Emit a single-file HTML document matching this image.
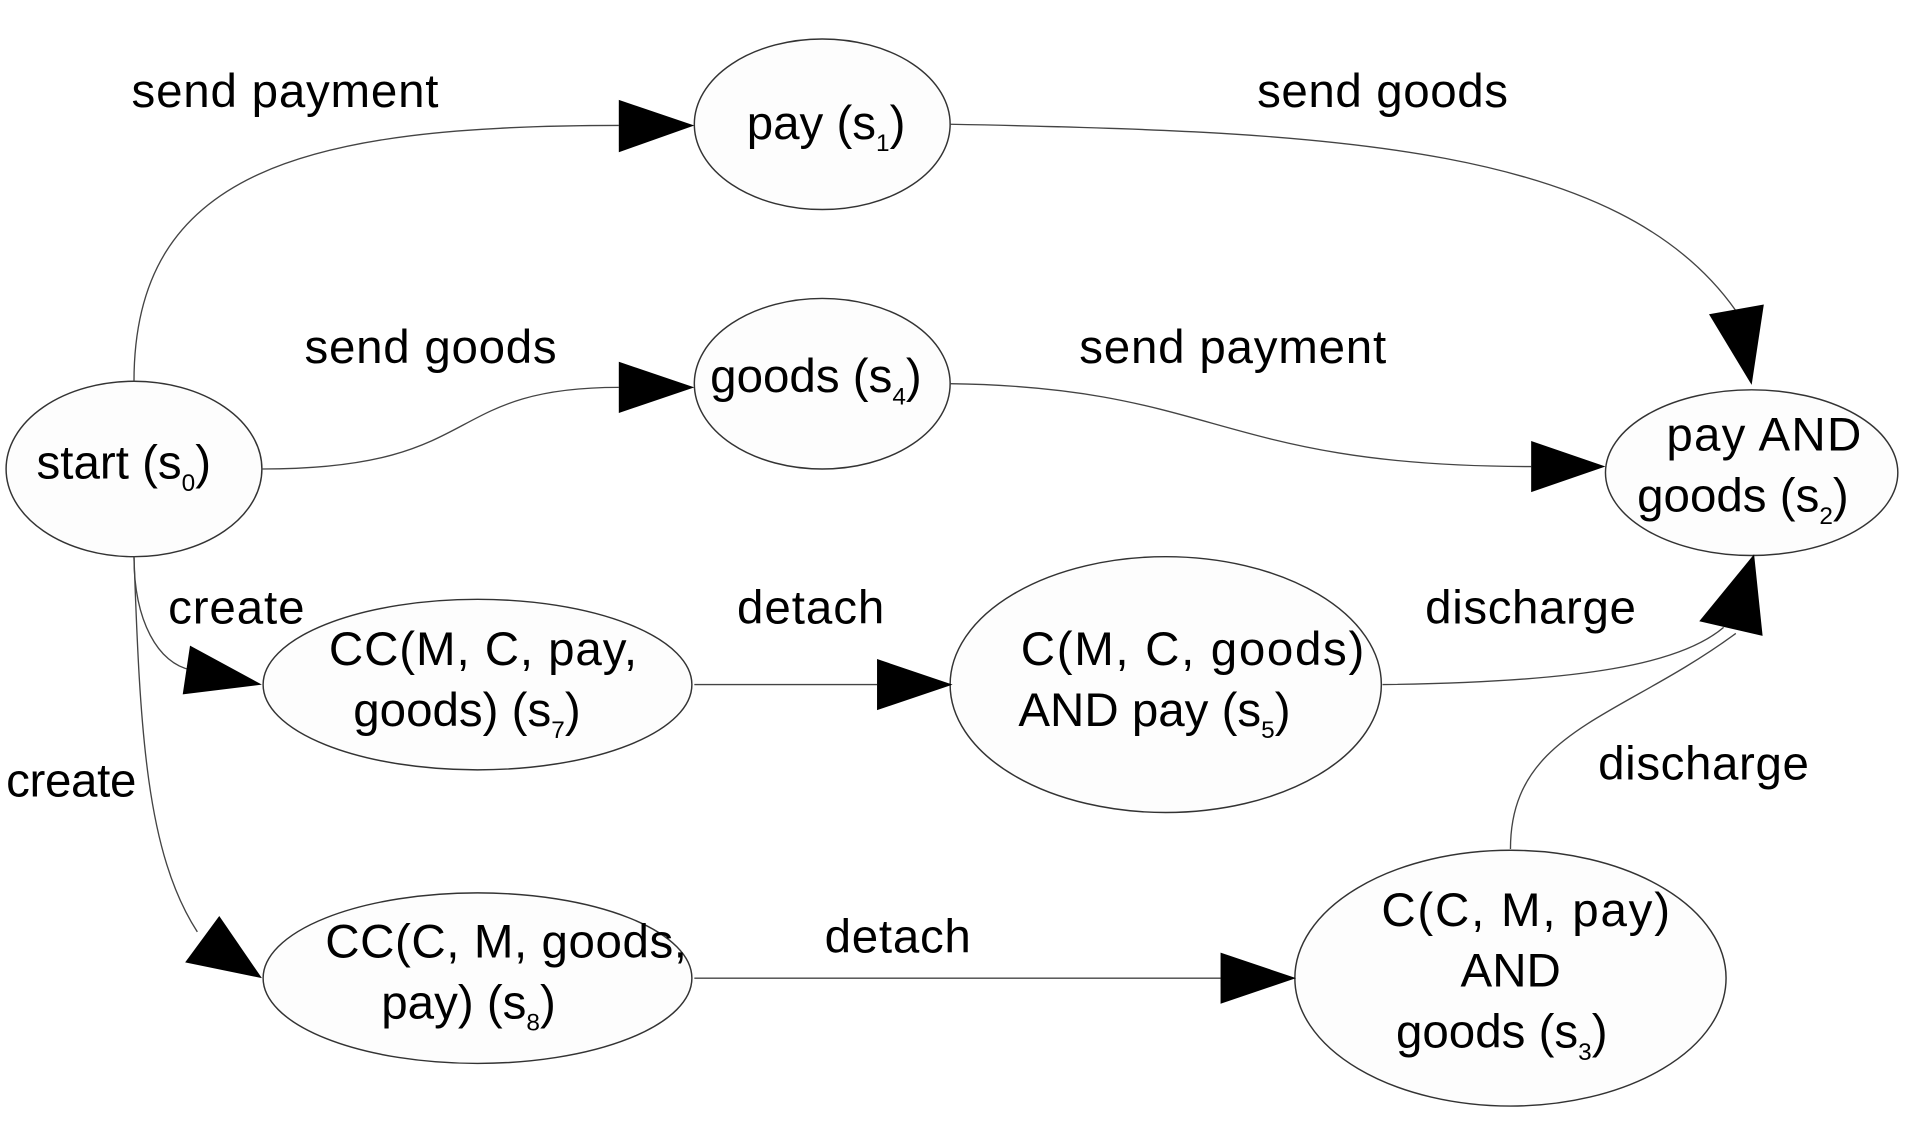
<!DOCTYPE html>
<html><head><meta charset="utf-8"><style>
html,body{margin:0;padding:0;background:#fff;}
svg{display:block;}
text{font-family:"Liberation Sans",Arial,sans-serif;font-size:39px;fill:#000;}
</style></head><body>
<svg width="1910" height="1128" viewBox="0 0 1568 926" preserveAspectRatio="none" xmlns="http://www.w3.org/2000/svg">
<g fill="#fdfdfd" stroke="#333" stroke-width="1.2">
<ellipse cx="675" cy="102" rx="105" ry="70"/>
<ellipse cx="675" cy="315" rx="105" ry="70"/>
<ellipse cx="110" cy="385" rx="105" ry="72"/>
<ellipse cx="1438" cy="388" rx="120" ry="68"/>
<ellipse cx="392" cy="562" rx="176" ry="70"/>
<ellipse cx="957" cy="562" rx="177" ry="105"/>
<ellipse cx="392" cy="803" rx="176" ry="70"/>
<ellipse cx="1240" cy="803" rx="177" ry="105"/>
</g>
<g fill="none" stroke="#444" stroke-width="1.1">
<path d="M110,313 C110,140 250,103 508,103"/>
<path d="M780,102 C1100,108 1330,120 1425,255"/>
<path d="M215,385 C400,385 360,318 508,318"/>
<path d="M780,315 C1000,318 1000,383 1257,383"/>
<path d="M110,457 C110,510 130,545 157,550"/>
<path d="M570,562 L720,562"/>
<path d="M1135,562 C1300,560 1380,545 1415,515"/>
<path d="M1240,697 C1240,600 1330,590 1425,520"/>
<path d="M110,457 C115,600 120,700 162,765"/>
<path d="M570,803 L1002,803"/>
</g>
<g fill="#000">
<polygon points="508,82 570,103 508,125"/>
<polygon points="1403,258 1448,250 1438,316"/>
<polygon points="508,297 570,318 508,339"/>
<polygon points="720,541 782,562 720,583"/>
<polygon points="1257,362 1318,383 1257,404"/>
<polygon points="156,530 215,562 150,570"/>
<polygon points="1395,510 1440,455 1447,522"/>
<polygon points="152,790 180,752 215,803"/>
<polygon points="1002,782 1064,803 1002,824"/>
</g>
<text x="108" y="88" textLength="252">send payment</text>
<text x="1032" y="88" textLength="206">send goods</text>
<text x="250" y="298" textLength="207">send goods</text>
<text x="886" y="298" textLength="252">send payment</text>
<text x="138" y="512" textLength="112">create</text>
<text x="605" y="512" textLength="121">detach</text>
<text x="1170" y="512" textLength="173">discharge</text>
<text x="1312" y="640" textLength="173">discharge</text>
<text x="5" y="654" textLength="107">create</text>
<text x="677" y="782" textLength="120">detach</text>
<text x="613" y="114">pay (s<tspan font-size="20" dy="10">1</tspan><tspan dy="-10">)</tspan></text>
<text x="583" y="322">goods (s<tspan font-size="20" dy="10">4</tspan><tspan dy="-10">)</tspan></text>
<text x="30" y="393">start (s<tspan font-size="20" dy="10">0</tspan><tspan dy="-10">)</tspan></text>
<text x="1368" y="370" textLength="160">pay AND</text>
<text x="1344" y="420">goods (s<tspan font-size="20" dy="10">2</tspan><tspan dy="-10">)</tspan></text>
<text x="270" y="546" textLength="253">CC(M, C, pay,</text>
<text x="290" y="596">goods) (s<tspan font-size="20" dy="10">7</tspan><tspan dy="-10">)</tspan></text>
<text x="838" y="546" textLength="282">C(M,  C, goods)</text>
<text x="836" y="596">AND pay (s<tspan font-size="20" dy="10">5</tspan><tspan dy="-10">)</tspan></text>
<text x="267" y="786" textLength="297">CC(C, M, goods,</text>
<text x="313" y="836">pay) (s<tspan font-size="20" dy="10">8</tspan><tspan dy="-10">)</tspan></text>
<text x="1134" y="760" textLength="237">C(C,  M, pay)</text>
<text x="1199" y="810">AND</text>
<text x="1146" y="860">goods (s<tspan font-size="20" dy="10">3</tspan><tspan dy="-10">)</tspan></text>
</svg>
</body></html>
